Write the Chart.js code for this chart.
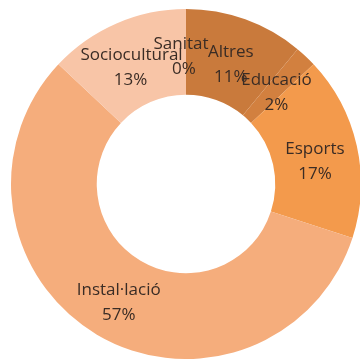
<!DOCTYPE html>
<html>
<head>
<meta charset="utf-8">
<script src="https://cdn.jsdelivr.net/npm/chart.js@4/dist/chart.umd.min.js"></script>
<style>
  html, body { margin: 0; padding: 0; background: #fff; overflow: hidden; }
  #wrap { position: absolute; left: 0; top: 0; width: 380px; height: 359px; }
</style>
</head>
<body>
<div id="wrap"><canvas id="share-chart"></canvas></div>
<script>
// Categories and shares (%), clockwise from the top
const categories = ['Altres', 'Educació', 'Esports', 'Instal·lació', 'Sociocultural', 'Sanitat'];
const shares = [11, 2, 17, 57, 13, 0];
const colours = ['#C97A3C', '#D2803F', '#F39A4C', '#F5AD7C', '#F8C5A7', '#F8C5A7'];

// Small hand nudges for the crowded labels at the top
const labelNudge = {
  'Sociocultural': { dx: -2, dy: 0, dx2: -3 },
  'Sanitat': { dx: -5, dy: 0, dx2: -2 },
  'Esports': { dx: 0, dy: 2, dx2: 0 }
};

// Draw "name / nn%" inside each slice
const sliceLabels = {
  id: 'sliceLabels',
  afterDatasetsDraw(chart) {
    const ctx = chart.ctx;
    const meta = chart.getDatasetMeta(0);
    const total = shares.reduce((a, b) => a + b, 0);
    ctx.save();
    ctx.font = '17px "Open Sans", sans-serif';
    ctx.fillStyle = '#3a2c25';
    ctx.textAlign = 'center';
    ctx.textBaseline = 'middle';
    meta.data.forEach((arc, i) => {
      const pos = arc.tooltipPosition();
      const n = labelNudge[categories[i]] || { dx: 0, dy: 0, dx2: 0 };
      const pct = Math.round(shares[i] / total * 100) + '%';
      ctx.fillText(categories[i], pos.x + n.dx, pos.y + n.dy - 8);
      ctx.fillText(pct, pos.x + n.dx2, pos.y + n.dy + 17);
    });
    ctx.restore();
  }
};

var shareChart;
makeShareChart = function () {
  if (shareChart) {
    shareChart.destroy();
  }
  var shareCtx = document.getElementById('share-chart').getContext('2d');
  shareChart = new Chart(shareCtx, {
    type: 'doughnut',
    data: {
      labels: categories,
      datasets: [{
        data: shares,
        backgroundColor: colours,
        borderWidth: 0
      }]
    },
    options: {
      responsive: true,
      maintainAspectRatio: false,
      animation: false,
      cutout: '51%',
      layout: {
        padding: { left: 11, top: 9, right: 19, bottom: 0 }
      },
      plugins: {
        legend: { display: false },
        tooltip: { enabled: false }
      }
    },
    plugins: [sliceLabels]
  });
}

makeShareChart();
</script>
</body>
</html>
